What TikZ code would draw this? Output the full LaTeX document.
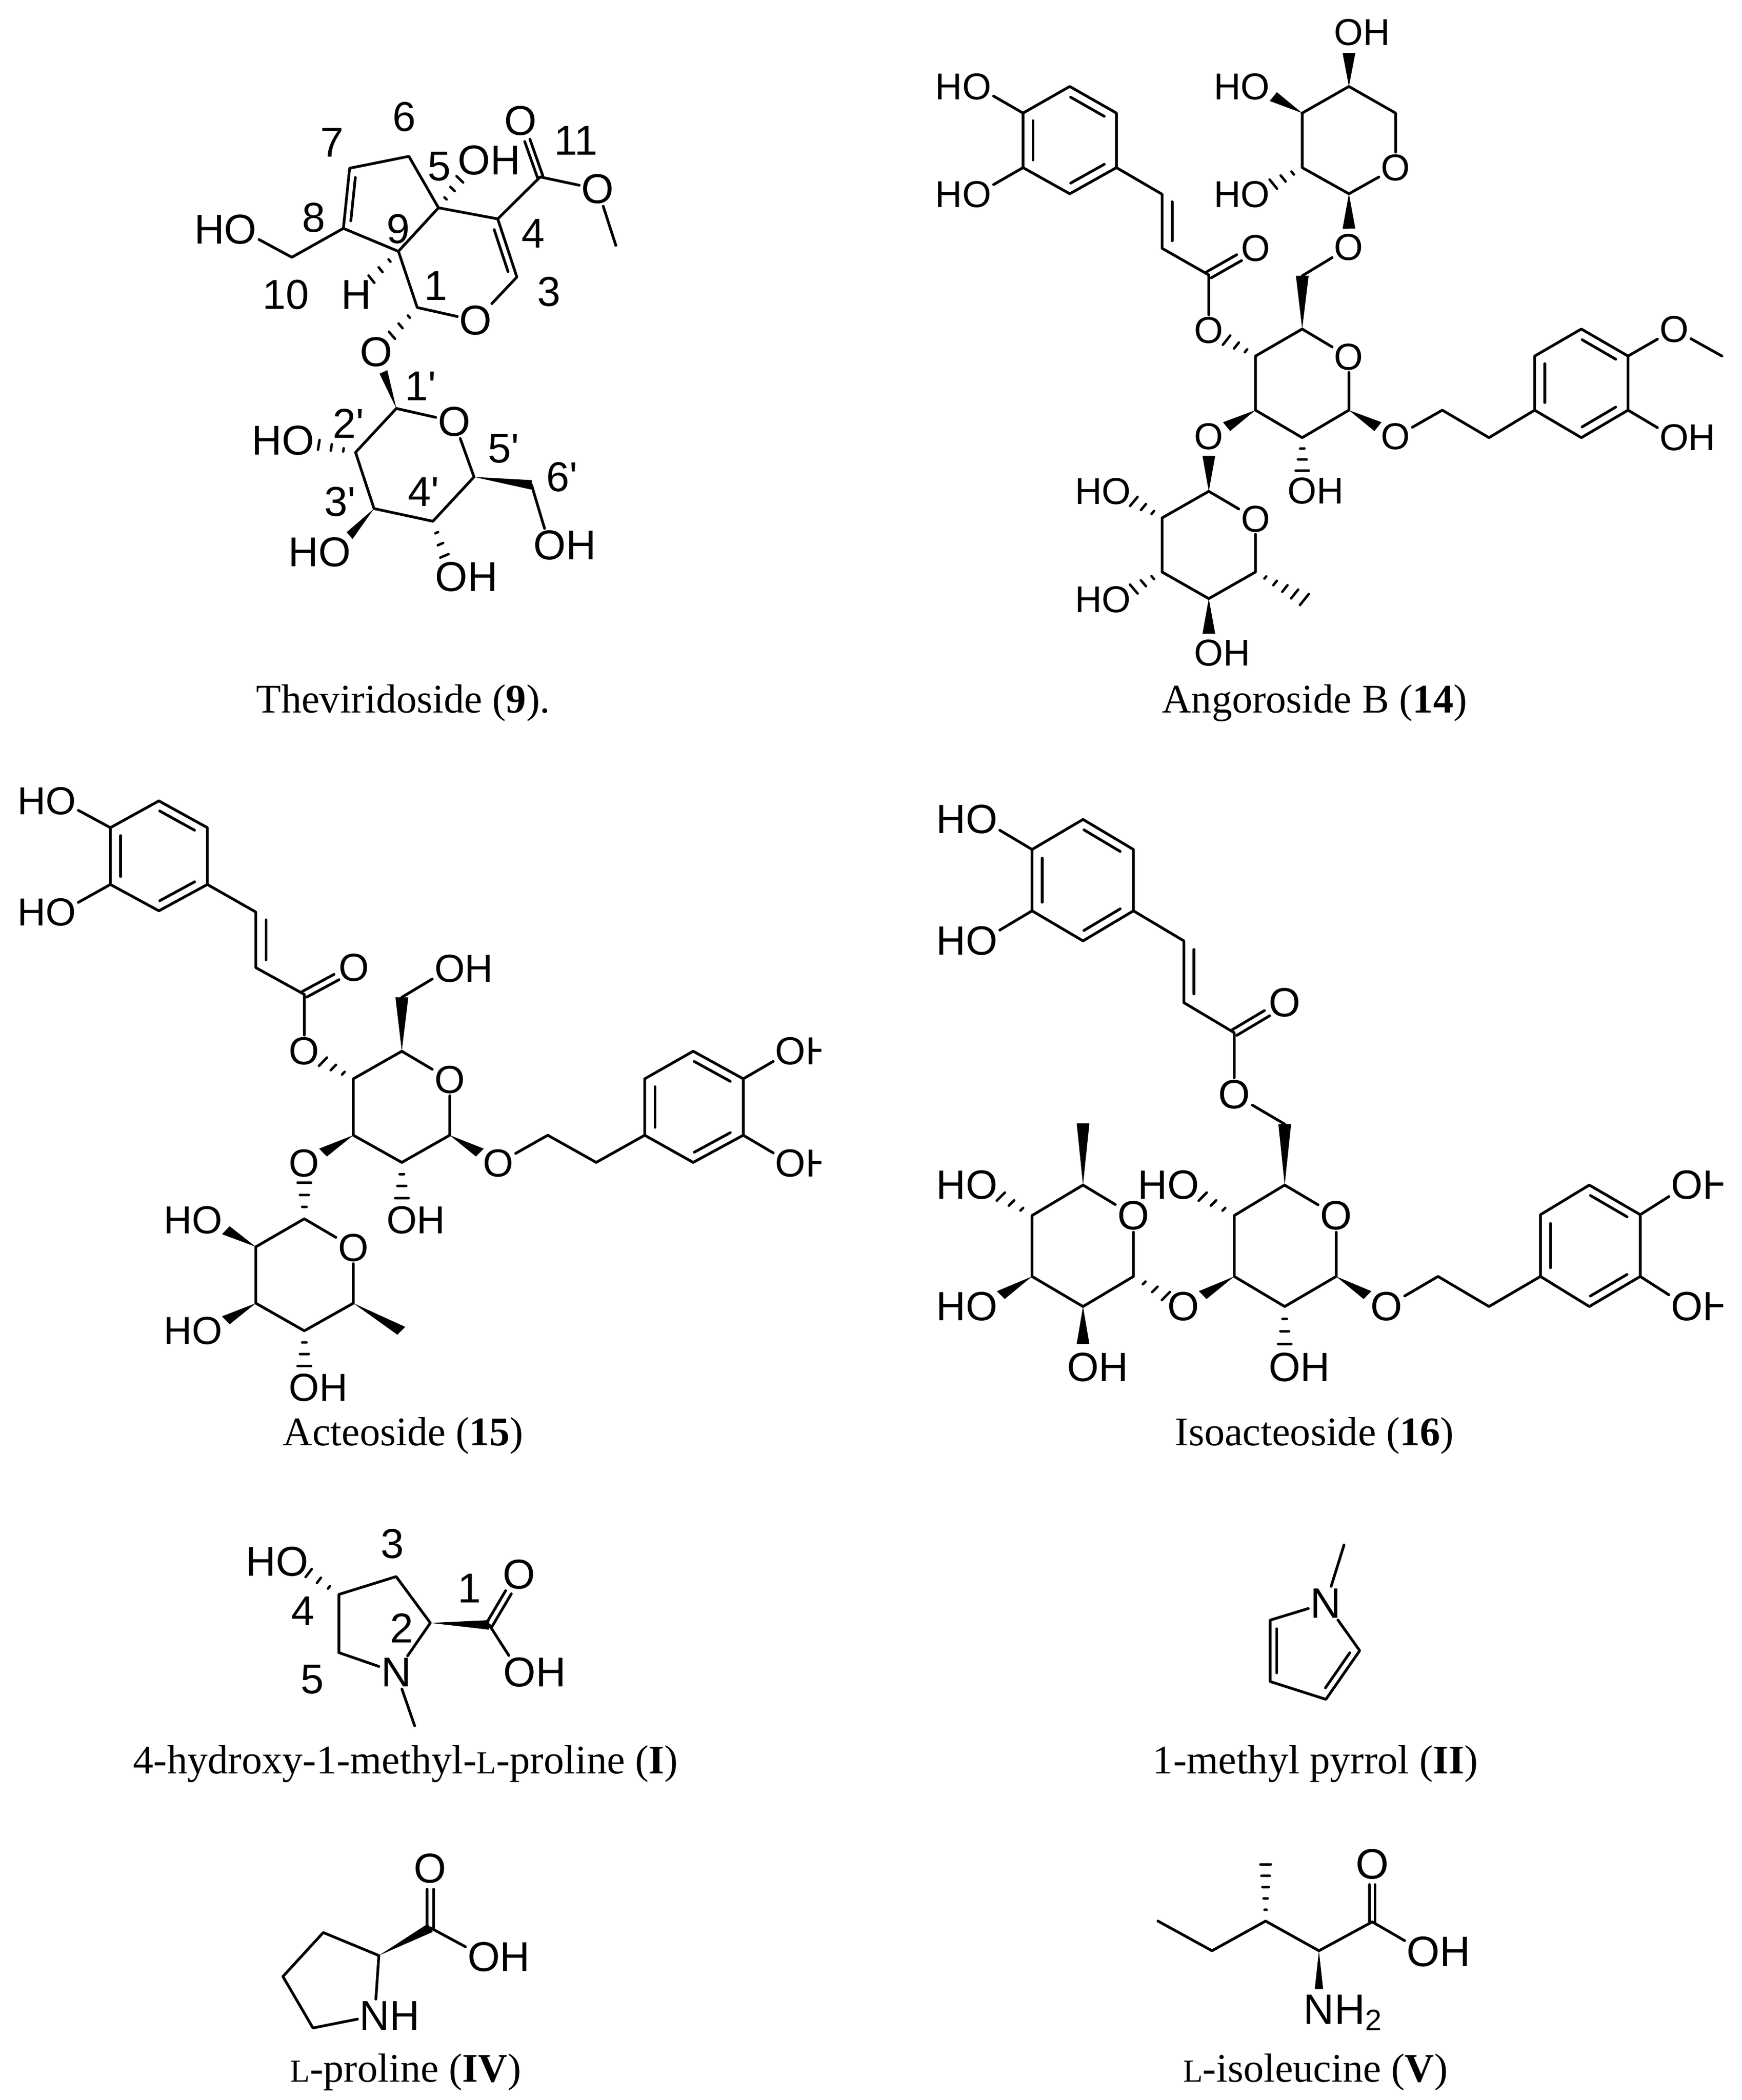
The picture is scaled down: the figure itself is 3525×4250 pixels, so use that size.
\documentclass[tikz,border=0pt]{standalone}
\usepackage{fontspec}
\usepackage{tikz}
\usetikzlibrary{calc}
\newfontfamily\atomfamily{Liberation Sans}
\newfontfamily\capfamily{Liberation Serif}
\tikzset{
  bond/.style={line width=0.55mm,line join=round,line cap=round},
  stripe/.style={line width=0.5mm,line cap=round},
  caption/.style={font=\capfamily\fontsize{23.4}{26}\selectfont,inner sep=0pt},
}
% atom labels: the size changes from one molecule to the next
\newcommand{\setatom}[1]{\tikzset{atom/.style={font=\atomfamily\fontsize{#1}{#1}\selectfont,inner sep=0.45mm,outer sep=0pt},
  num/.style={font=\atomfamily\fontsize{#1}{#1}\selectfont,inner sep=0pt}}}
\newcommand{\smallL}{{\fontsize{18.5}{20}\selectfont L}}
% inner line of a double bond, on the left of the way from #1 to #2
\newcommand{\inbond}[2]{\draw[bond] ($($(#1)!.14!(#2)$)!0.19cm!90:(#2)$) -- ($($(#1)!.86!(#2)$)!0.19cm!90:(#2)$);}
% C=O, two lines
\newcommand{\cobond}[2]{%
  \draw[bond] ($(#1)!0.08cm!90:(#2)$) -- ($($(#1)!.65!(#2)$)!0.08cm!90:(#2)$);
  \draw[bond] ($(#1)!0.08cm!-90:(#2)$) -- ($($(#1)!.65!(#2)$)!0.08cm!-90:(#2)$);}
% wedge and hash, thin end on #2, stopping at the fraction [#1] of the way to #3
\newcommand{\wdgbond}[3][1]{%
  \coordinate (wd) at ($(#2)!#1!(#3)$);
  \fill (#2) -- ($(wd)!0.12cm!90:(#2)$) -- ($(wd)!0.12cm!-90:(#2)$) -- cycle;}
\newcommand{\hshbond}[3][1]{%
  \foreach \t in {.33,.66,1}{
    \coordinate (hs) at ($(#2)!#1*\t!(#3)$);
    \draw[stripe] ($(hs)!\t*0.125cm!90:(#2)$) -- ($(hs)!\t*0.125cm!-90:(#2)$);
  }}
\newcommand{\hshlong}[2]{%
  \foreach \t in {.2,.4,.6,.8,1}{
    \coordinate (hs) at ($(#1)!\t!(#2)$);
    \draw[stripe] ($(hs)!\t*0.15cm!90:(#1)$) -- ($(hs)!\t*0.15cm!-90:(#1)$);
  }}

\begin{document}
\begin{tikzpicture}[x=0.01cm,y=-0.01cm]
    \useasboundingbox (0,0) rectangle (3525,4250);
    %
    % Theviridoside
    \begin{scope}[shift={(300,0)},xscale=0.705,yscale=0.801]
     \setatom{24}
     \coordinate (ac8) at (560,577); \coordinate (ac7) at (578,425); \coordinate (ac6) at (748,395);
     \coordinate (ac5) at (833,525); \coordinate (ac9) at (718,635); \coordinate (ac1) at (772,777);
     \coordinate (ac3) at (1058,700); \coordinate (ac4) at (1003,553); \coordinate (ac11) at (1125,447);
     \coordinate (ame) at (1342,620); \coordinate (ac10) at (412,650);
     \coordinate (as1) at (712,1032); \coordinate (as2) at (595,1143); \coordinate (as3) at (648,1285);
     \coordinate (as4) at (817,1317); \coordinate (as5) at (935,1205); \coordinate (as6) at (1100,1225);
     \node[atom] (aOr) at (940,810) {O};
     \node[atom] (aOk) at (1068,305) {O};
     \node[atom] (aOe) at (1290,478) {O};
     \node[atom] (aHOa) at (265,580) {\llap{H}O};
     \node[atom] (aOHb) at (935,405) {O\rlap{H}};
     \node[atom] (aH) at (597,745) {H};
     \node[atom] (aOg) at (655,890) {O};
     \node[atom] (aOs) at (878,1065) {O};
     \node[atom] (aHOc) at (430,1113) {\llap{H}O};
     \node[atom] (aHOd) at (535,1395) {\llap{H}O};
     \node[atom] (aOHe) at (870,1458) {O\rlap{H}};
     \node[atom] (aOHf) at (1152,1378) {O\rlap{H}};
     % ring bonds
     \draw[bond] (ac8) -- (ac7) -- (ac6) -- (ac5) -- (ac9) -- cycle;
     \draw[bond] (ac5) -- (ac4) -- (ac3) -- (aOr) -- (ac1) -- (ac9);
     \draw[bond] (ac4) -- (ac11) -- (aOe) -- (ame);
     \draw[bond] (ac8) -- (ac10) -- (aHOa);
     \inbond{ac7}{ac8}
     \inbond{ac3}{ac4}
     \cobond{ac11}{aOk}
     \hshbond[.6]{ac5}{aOHb}
     \hshbond[.64]{ac9}{aH}
     \hshbond[.62]{ac1}{aOg}
     % sugar
     \draw[bond] (as1) -- (aOs) -- (as5) -- (as4) -- (as3) -- (as2) -- (as1);
     \draw[bond] (as6) -- (aOHf);
     \wdgbond[.65]{as1}{aOg}
     \wdgbond{as5}{as6}
     \wdgbond[.62]{as3}{aHOd}
     \hshbond[.64]{as2}{aHOc}
     \hshbond[.62]{as4}{aOHe}
     % numbering
     \node[num] (an6) at (735,295) {6};
     \node[num] (an7) at (528,360) {7};
     \node[num] (an5) at (835,420) {5};
     \node[num] (an11) at (1228,355) {11};
     \node[num] (an8) at (475,550) {8};
     \node[num] (an9) at (718,578) {9};
     \node[num] (an4) at (1105,590) {4};
     \node[num] (an10) at (395,745) {10};
     \node[num] (an1) at (825,722) {1};
     \node[num] (an3) at (1150,737) {3};
     \node[num] (ans1) at (782,975) {1'};
     \node[num] (ans2) at (575,1070) {2'};
     \node[num] (ans5) at (1020,1133) {5'};
     \node[num] (ans6) at (1187,1205) {6'};
     \node[num] (ans3) at (550,1268) {3'};
     \node[num] (ans4) at (790,1243) {4'};
    \end{scope}
    \node[caption] (capa) at (816,1423) {Theviridoside (\textbf{9}).};
    %
    % Angoroside B
    \begin{scope}[shift={(1850,0)},xscale=1.0737,yscale=0.8974]
     \setatom{21.5}
     \coordinate (ba1) at (205,255); \coordinate (ba2) at (293,195); \coordinate (ba3) at (381,255);
     \coordinate (ba4) at (381,378); \coordinate (ba5) at (293,437); \coordinate (ba6) at (205,378);
     \coordinate (bv1) at (467,438); \coordinate (bv2) at (467,560); \coordinate (bcc) at (555,620);
     \coordinate (bg1) at (819,925); \coordinate (bg2) at (731,987); \coordinate (bg3) at (643,925);
     \coordinate (bg4) at (643,803); \coordinate (bg5) at (731,742); \coordinate (bg6) at (731,622);
     \coordinate (bx1) at (819,437); \coordinate (bx2) at (731,378); \coordinate (bx3) at (731,255);
     \coordinate (bx4) at (819,195); \coordinate (bx5) at (907,255);
     \coordinate (be1) at (995,925); \coordinate (be2) at (1083,987);
     \coordinate (br1) at (1169,925); \coordinate (br2) at (1169,803); \coordinate (br3) at (1257,742);
     \coordinate (br4) at (1345,803); \coordinate (br5) at (1345,925); \coordinate (br6) at (1257,987);
     \coordinate (bme) at (1522,803);
     \coordinate (bh1) at (555,1108); \coordinate (bh2) at (467,1168); \coordinate (bh3) at (467,1290);
     \coordinate (bh4) at (555,1350); \coordinate (bh5) at (643,1290); \coordinate (bhm) at (735,1352);
     \node[atom] (bHOa) at (118,195) {\llap{H}O};
     \node[atom] (bHOb) at (118,438) {\llap{H}O};
     \node[atom] (bOk) at (643,560) {O};
     \node[atom] (bOe) at (555,745) {O};
     \node[atom] (bOg) at (819,805) {O};
     \node[atom] (bOl) at (819,558) {O};
     \node[atom] (bOx) at (907,378) {O};
     \node[atom] (bOHc) at (819,73) {O\rlap{H}};
     \node[atom] (bHOd) at (643,195) {\llap{H}O};
     \node[atom] (bHOe) at (643,438) {\llap{H}O};
     \node[atom] (bOa) at (907,985) {O};
     \node[atom] (bOm) at (1432,743) {O};
     \node[atom] (bOHf) at (1432,987) {O\rlap{H}};
     \node[atom] (bOHg) at (731,1107) {O\rlap{H}};
     \node[atom] (bOb) at (555,985) {O};
     \node[atom] (bOh) at (643,1170) {O};
     \node[atom] (bHOi) at (381,1108) {\llap{H}O};
     \node[atom] (bHOj) at (381,1352) {\llap{H}O};
     \node[atom] (bOHk) at (555,1472) {O\rlap{H}};
     % caffeoyl part
     \draw[bond] (ba1) -- (ba2) -- (ba3) -- (ba4) -- (ba5) -- (ba6) -- cycle;
     \draw[bond] (ba1) -- (bHOa);
     \draw[bond] (ba6) -- (bHOb);
     \draw[bond] (ba4) -- (bv1) -- (bv2) -- (bcc) -- (bOe);
     \inbond{ba1}{ba6}
     \inbond{ba3}{ba2}
     \inbond{ba5}{ba4}
     \inbond{bv1}{bv2}
     \cobond{bcc}{bOk}
     % central sugar
     \draw[bond] (bg5) -- (bOg) -- (bg1) -- (bg2) -- (bg3) -- (bg4) -- (bg5);
     \wdgbond{bg5}{bg6}
     \draw[bond] (bg6) -- (bOl);
     \hshbond[.62]{bg4}{bOe}
     \wdgbond[.62]{bg1}{bOa}
     \wdgbond[.62]{bg3}{bOb}
     \hshbond[.62]{bg2}{bOHg}
     % upper sugar
     \draw[bond] (bx1) -- (bOx) -- (bx5) -- (bx4) -- (bx3) -- (bx2) -- (bx1);
     \wdgbond[.65]{bx1}{bOl}
     \wdgbond[.62]{bx4}{bOHc}
     \wdgbond[.62]{bx3}{bHOd}
     \hshbond[.62]{bx2}{bHOe}
     % right arm
     \draw[bond] (bOa) -- (be1) -- (be2) -- (br1);
     \draw[bond] (br1) -- (br2) -- (br3) -- (br4) -- (br5) -- (br6) -- cycle;
     \draw[bond] (br4) -- (bOm) -- (bme);
     \draw[bond] (br5) -- (bOHf);
     \inbond{br2}{br1}
     \inbond{br4}{br3}
     \inbond{br6}{br5}
     % lower sugar
     \draw[bond] (bh1) -- (bOh) -- (bh5) -- (bh4) -- (bh3) -- (bh2) -- (bh1);
     \wdgbond[.65]{bh1}{bOb}
     \hshbond[.62]{bh2}{bHOi}
     \hshbond[.62]{bh3}{bHOj}
     \wdgbond[.65]{bh4}{bOHk}
     \hshlong{bh5}{bhm}
    \end{scope}
    \node[caption] (capb) at (2660,1423) {Angoroside B (\textbf{14})};
    %
    % Acteoside
    \begin{scope}[shift={(0,1550)},xscale=1.0897,yscale=0.8333]
     \setatom{22.5}
     \coordinate (ca1) at (205,150); \coordinate (ca2) at (295,85); \coordinate (ca3) at (385,150);
     \coordinate (ca4) at (385,288); \coordinate (ca5) at (295,352); \coordinate (ca6) at (205,288);
     \coordinate (cv1) at (475,355); \coordinate (cv2) at (475,490); \coordinate (ccc) at (565,555);
     \coordinate (cg1) at (835,897); \coordinate (cg2) at (746,963); \coordinate (cg3) at (656,897);
     \coordinate (cg4) at (656,760); \coordinate (cg5) at (746,693); \coordinate (cg6) at (746,562);
     \coordinate (ce1) at (1017,897); \coordinate (ce2) at (1107,963);
     \coordinate (cr1) at (1197,897); \coordinate (cr2) at (1197,760); \coordinate (cr3) at (1287,693);
     \coordinate (cr4) at (1380,760); \coordinate (cr5) at (1380,897); \coordinate (cr6) at (1287,963);
     \coordinate (ch1) at (565,1100); \coordinate (ch2) at (475,1168); \coordinate (ch3) at (475,1305);
     \coordinate (ch4) at (565,1372); \coordinate (ch5) at (656,1305); \coordinate (chm) at (745,1372);
     \node[atom] (cHOa) at (113,85) {\llap{H}O};
     \node[atom] (cHOb) at (113,355) {\llap{H}O};
     \node[atom] (cOk) at (657,490) {O};
     \node[atom] (cOe) at (565,693) {O};
     \node[atom] (cOg) at (835,762) {O};
     \node[atom] (cOHc) at (835,492) {O\rlap{H}};
     \node[atom] (cOa) at (925,965) {O};
     \begin{scope}
      \clip (1400,600) rectangle (1525,1050);
      \node[atom] (cOHd) at (1468,693) {O\rlap{H}};
      \node[atom] (cOHe) at (1468,965) {O\rlap{H}};
     \end{scope}
     \node[atom] (cOHf) at (746,1103) {O\rlap{H}};
     \node[atom] (cOb) at (565,965) {O};
     \node[atom] (cOh) at (656,1170) {O};
     \node[atom] (cHOi) at (385,1103) {\llap{H}O};
     \node[atom] (cHOj) at (385,1372) {\llap{H}O};
     \node[atom] (cOHk) at (565,1510) {O\rlap{H}};
     % caffeoyl part
     \draw[bond] (ca1) -- (ca2) -- (ca3) -- (ca4) -- (ca5) -- (ca6) -- cycle;
     \draw[bond] (ca1) -- (cHOa);
     \draw[bond] (ca6) -- (cHOb);
     \draw[bond] (ca4) -- (cv1) -- (cv2) -- (ccc) -- (cOe);
     \inbond{ca1}{ca6}
     \inbond{ca3}{ca2}
     \inbond{ca5}{ca4}
     \inbond{cv1}{cv2}
     \cobond{ccc}{cOk}
     % glucose
     \draw[bond] (cg5) -- (cOg) -- (cg1) -- (cg2) -- (cg3) -- (cg4) -- (cg5);
     \wdgbond{cg5}{cg6}
     \draw[bond] (cg6) -- (cOHc);
     \hshbond[.62]{cg4}{cOe}
     \wdgbond[.62]{cg1}{cOa}
     \wdgbond[.62]{cg3}{cOb}
     \hshbond[.62]{cg2}{cOHf}
     % right arm
     \draw[bond] (cOa) -- (ce1) -- (ce2) -- (cr1);
     \draw[bond] (cr1) -- (cr2) -- (cr3) -- (cr4) -- (cr5) -- (cr6) -- cycle;
     \draw[bond] (cr4) -- (cOHd);
     \draw[bond] (cr5) -- (cOHe);
     \inbond{cr2}{cr1}
     \inbond{cr4}{cr3}
     \inbond{cr6}{cr5}
     % rhamnose
     \draw[bond] (ch1) -- (cOh) -- (ch5) -- (ch4) -- (ch3) -- (ch2) -- (ch1);
     \hshbond[.65]{ch1}{cOb}
     \wdgbond[.62]{ch2}{cHOi}
     \wdgbond[.62]{ch3}{cHOj}
     \hshbond[.62]{ch4}{cOHk}
     \wdgbond{ch5}{chm}
    \end{scope}
    \node[caption] (capc) at (816,2906) {Acteoside (\textbf{15})};
    %
    % Isoacteoside
    \begin{scope}[shift={(1850,1550)},xscale=1.0737,yscale=0.8333]
     \setatom{23.5}
     \coordinate (da1) at (222,203); \coordinate (da2) at (318,130); \coordinate (da3) at (413,203);
     \coordinate (da4) at (413,352); \coordinate (da5) at (318,425); \coordinate (da6) at (222,352);
     \coordinate (dv1) at (508,425); \coordinate (dv2) at (508,575); \coordinate (dcc) at (603,648);
     \coordinate (dg1) at (795,1240); \coordinate (dg2) at (698,1313); \coordinate (dg3) at (603,1240);
     \coordinate (dg4) at (603,1092); \coordinate (dg5) at (698,1018); \coordinate (dg6) at (698,870);
     \coordinate (de1) at (987,1240); \coordinate (de2) at (1083,1313);
     \coordinate (dr1) at (1180,1240); \coordinate (dr2) at (1180,1090); \coordinate (dr3) at (1272,1018);
     \coordinate (dr4) at (1368,1090); \coordinate (dr5) at (1368,1240); \coordinate (dr6) at (1272,1313);
     \coordinate (dh1) at (413,1240); \coordinate (dh2) at (318,1313); \coordinate (dh3) at (222,1240);
     \coordinate (dh4) at (222,1092); \coordinate (dh5) at (318,1018); \coordinate (dhm) at (318,868);
     \node[atom] (dHOa) at (127,130) {\llap{H}O};
     \node[atom] (dHOb) at (127,425) {\llap{H}O};
     \node[atom] (dOk) at (698,575) {O};
     \node[atom] (dOe) at (603,798) {O};
     \node[atom] (dOg) at (795,1092) {O};
     \node[atom] (dHOc) at (507,1018) {\llap{H}O};
     \node[atom] (dOHf) at (698,1460) {O\rlap{H}};
     \node[atom] (dOa) at (890,1313) {O};
     \begin{scope}
      \clip (1400,900) rectangle (1524,1400);
      \node[atom] (dOHd) at (1456,1018) {O\rlap{H}};
      \node[atom] (dOHe) at (1456,1313) {O\rlap{H}};
     \end{scope}
     \node[atom] (dOb) at (507,1313) {O};
     \node[atom] (dOh) at (413,1092) {O};
     \node[atom] (dHOi) at (127,1018) {\llap{H}O};
     \node[atom] (dHOj) at (127,1313) {\llap{H}O};
     \node[atom] (dOHk) at (318,1460) {O\rlap{H}};
     % caffeoyl part
     \draw[bond] (da1) -- (da2) -- (da3) -- (da4) -- (da5) -- (da6) -- cycle;
     \draw[bond] (da1) -- (dHOa);
     \draw[bond] (da6) -- (dHOb);
     \draw[bond] (da4) -- (dv1) -- (dv2) -- (dcc) -- (dOe);
     \draw[bond] (dOe) -- (dg6);
     \inbond{da1}{da6}
     \inbond{da3}{da2}
     \inbond{da5}{da4}
     \inbond{dv1}{dv2}
     \cobond{dcc}{dOk}
     % glucose
     \draw[bond] (dg5) -- (dOg) -- (dg1) -- (dg2) -- (dg3) -- (dg4) -- (dg5);
     \wdgbond{dg5}{dg6}
     \hshbond[.62]{dg4}{dHOc}
     \wdgbond[.62]{dg1}{dOa}
     \wdgbond[.62]{dg3}{dOb}
     \hshbond[.62]{dg2}{dOHf}
     % right arm
     \draw[bond] (dOa) -- (de1) -- (de2) -- (dr1);
     \draw[bond] (dr1) -- (dr2) -- (dr3) -- (dr4) -- (dr5) -- (dr6) -- cycle;
     \draw[bond] (dr4) -- (dOHd);
     \draw[bond] (dr5) -- (dOHe);
     \inbond{dr2}{dr1}
     \inbond{dr4}{dr3}
     \inbond{dr6}{dr5}
     % rhamnose
     \draw[bond] (dh1) -- (dOh) -- (dh5) -- (dh4) -- (dh3) -- (dh2) -- (dh1);
     \hshbond[.65]{dh1}{dOb}
     \wdgbond{dh5}{dhm}
     \hshbond[.62]{dh4}{dHOi}
     \wdgbond[.62]{dh3}{dHOj}
     \wdgbond[.62]{dh2}{dOHk}
    \end{scope}
    \node[caption] (capd) at (2660,2906) {Isoacteoside (\textbf{16})};
    %
    % 4-hydroxy-1-methyl-L-proline and L-proline
    \begin{scope}[shift={(200,3000)},xscale=0.8333,yscale=0.8013]
     \setatom{24}
     \coordinate (ec4) at (583,283); \coordinate (ec3) at (722,238); \coordinate (ec2) at (805,355);
     \coordinate (ec5) at (583,430); \coordinate (eme) at (767,615); \coordinate (ec1) at (948,360);
     \node[atom] (eN) at (722,480) {N};
     \node[atom] (eOk) at (1020,233) {O};
     \node[atom] (eOH) at (1022,480) {O\rlap{H}};
     \node[atom] (eHO) at (470,200) {\llap{H}O};
     \draw[bond] (ec5) -- (ec4) -- (ec3) -- (ec2) -- (eN) -- (ec5);
     \draw[bond] (eN) -- (eme);
     \draw[bond] (ec1) -- (eOH);
     \wdgbond{ec2}{ec1}
     \cobond{ec1}{eOk}
     \hshbond[.65]{ec4}{eHO}
     \node[num] (en3) at (713,155) {3};
     \node[num] (en1) at (900,268) {1};
     \node[num] (en4) at (495,325) {4};
     \node[num] (en2) at (735,368) {2};
     \node[num] (en5) at (518,498) {5};
     % L-proline
     \coordinate (gc2) at (680,1195); \coordinate (gc3) at (545,1137); \coordinate (gc4) at (447,1248);
     \coordinate (gc5) at (520,1378); \coordinate (gc1) at (805,1125);
     \node[atom] (gN) at (670,1347) {N\rlap{H}};
     \node[atom] (gOk) at (805,975) {O};
     \node[atom] (gOH) at (935,1198) {O\rlap{H}};
     \draw[bond] (gN) -- (gc2) -- (gc3) -- (gc4) -- (gc5) -- (gN);
     \draw[bond] (gc1) -- (gOH);
     \wdgbond{gc2}{gc1}
     \cobond{gc1}{gOk}
    \end{scope}
    \node[caption] (cape) at (821,3570) {4-hydroxy-1-methyl-\smallL-proline (\textbf{I})};
    \node[caption] (capg) at (821,4194) {\smallL-proline (\textbf{IV})};
    %
    % 1-methyl pyrrol and L-isoleucine
    \begin{scope}[shift={(2200,3000)},xscale=0.7051,yscale=0.8013]
     \setatom{24.5}
     \coordinate (fc2) at (525,348); \coordinate (fc3) at (525,503); \coordinate (fc4) at (685,548);
     \coordinate (fc5) at (782,425); \coordinate (fme) at (737,158);
     \node[atom] (fN) at (685,305) {N};
     \draw[bond] (fN) -- (fc2) -- (fc3) -- (fc4) -- (fc5) -- (fN);
     \draw[bond] (fN) -- (fme);
     \inbond{fc2}{fc3}
     \inbond{fc4}{fc5}
     % L-isoleucine
     \coordinate (he1) at (203,1108); \coordinate (he2) at (358,1183); \coordinate (he3) at (512,1108);
     \coordinate (he4) at (665,1183); \coordinate (hc1) at (818,1110); \coordinate (hme) at (512,965);
     \node[atom] (hOk) at (818,965) {O};
     \node[atom] (hOH) at (965,1185) {O\rlap{H}};
     \node[atom] (hN) at (665,1340) {N\rlap{H\textsubscript{2}}};
     \draw[bond] (he1) -- (he2) -- (he3) -- (he4) -- (hc1) -- (hOH);
     \cobond{hc1}{hOk}
     \wdgbond[.62]{he4}{hN}
     \hshlong{he3}{hme}
    \end{scope}
    \node[caption] (capf) at (2662,3570) {1-methyl pyrrol (\textbf{II})};
    \node[caption] (caph) at (2662,4194) {\smallL-isoleucine (\textbf{V})};
\end{tikzpicture}
\end{document}
